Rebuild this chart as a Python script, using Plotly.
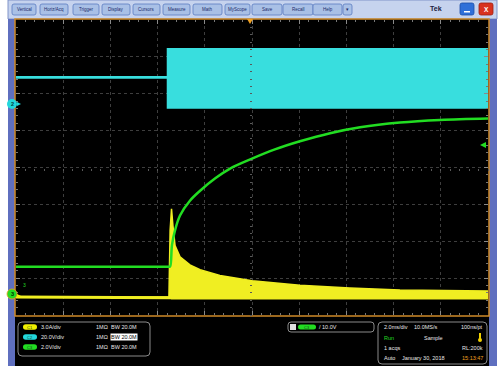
import plotly.graph_objects as go

W, H = 499, 371

# ---------------- data (time in ms, vertical in divisions) ----------------
cyan_t = [-10.0, -3.56, -3.56, 10.0]
cyan_upper_div = [2.45, 2.45, 3.21, 3.21]
cyan_lower_div = [2.45, 2.45, 1.63, 1.63]

green_t = [-10.0, -3.52, -3.47, -3.39, -3.26, -3.05, -2.63, -2.20, -1.57, -0.93,
           0.0, 0.97, 2.03, 3.31, 4.58, 6.27, 7.97, 10.0]
green_div = [-2.69, -2.69, -2.69, -2.10, -1.70, -1.30, -0.90, -0.63, -0.30, -0.03,
             0.24, 0.49, 0.71, 0.93, 1.09, 1.22, 1.29, 1.33]

yellow_t = [-10.0, -3.52, -3.47, -3.41, -3.35, -3.26, -3.05, -2.63, -2.20, -1.36,
            0.0, 2.03, 4.15, 6.27, 10.0]
yellow_upper_div = [-3.51, -3.51, -1.71, -1.12, -1.58, -2.12, -2.42, -2.64, -2.77, -2.93,
                    -3.07, -3.19, -3.27, -3.32, -3.35]
yellow_lower_div = [-3.51, -3.51, -3.53, -3.54, -3.54, -3.54, -3.54, -3.54, -3.54, -3.54,
                    -3.54, -3.54, -3.54, -3.54, -3.54]

menu_labels = ["Vertical", "Horiz/Acq", "Trigger", "Display", "Cursors", "Measure",
               "Math", "MyScope", "Save", "Recall", "Help", "▾"]
menu_x = [(12, 36), (40, 68), (73, 99), (102, 130), (133, 160), (163, 190),
          (193, 222), (225, 250), (252, 282), (283, 313), (313, 342), (343, 352)]

chan_names = ["C1", "C2", "C3"]
chan_colors = ["#f0f000", "#22d8dc", "#22dd22"]
chan_scales = ["3.0A/div", "20.0V/div", "2.0V/div"]
chan_imp = ["1MΩ", "1MΩ", "1MΩ"]
chan_bw = ["BW 20.0M", "BW 20.0M", "BW 20.0M"]

trig_source = "C3"
trig_level = "10.0V"
timebase = "2.0ms/div"
sample_rate = "10.0MS/s"
resolution = "100ns/pt"
acq_state = "Run"
acq_mode = "Sample"
acqs = "1 acqs"
rec_len = "RL:200k"
trig_mode = "Auto"
date_txt = "January 30, 2018"
time_txt = "15:13:47"

# ---------------- helpers ----------------
def px(x):
    return x / W


def py(y):
    return 1 - y / H


def rrect(x0, y0, x1, y1, r):
    X0, X1 = px(x0), px(x1)
    Y0, Y1 = py(y0), py(y1)
    rx, ry = r / W, r / H
    return (f"M {X0+rx},{Y0} L {X1-rx},{Y0} Q {X1},{Y0} {X1},{Y0-ry} "
            f"L {X1},{Y1+ry} Q {X1},{Y1} {X1-rx},{Y1} L {X0+rx},{Y1} "
            f"Q {X0},{Y1} {X0},{Y1+ry} L {X0},{Y0-ry} Q {X0},{Y0} {X0+rx},{Y0} Z")


shapes = []
ann = []


def rect(x0, y0, x1, y1, fill, line=None, lw=0, layer="below"):
    shapes.append(dict(type="rect", xref="paper", yref="paper",
                       x0=px(x0), x1=px(x1), y0=py(y1), y1=py(y0),
                       fillcolor=fill, line=dict(color=line or fill, width=lw), layer=layer))


def text(x, y, s, size=5.5, color="#e8e8e8", anchor="left", bold=False, bg=None):
    ann.append(dict(xref="paper", yref="paper", x=px(x), y=py(y), text=(f"<b>{s}</b>" if bold else s),
                    showarrow=False, xanchor=anchor, yanchor="middle",
                    font=dict(size=size, color=color, family="Liberation Sans, Arial"),
                    bgcolor=bg, borderpad=0))


# frame
rect(8, 0, 497, 19, "#c6d3ee", "#8094c8", 1)
rect(8, 19, 15, 366, "#5f6fbf")
rect(489, 19, 497, 366, "#5f6fbf")
rect(15, 316, 489, 366, "#000000")
rect(15, 19, 489, 316, "#000000", "#d08a28", 1.5)

for lab, (a, b) in zip(menu_labels, menu_x):
    shapes.append(dict(type="path", xref="paper", yref="paper", path=rrect(a, 4, b, 15, 2),
                       fillcolor="#a9c0e6", line=dict(color="#5c7cc0", width=0.8), layer="below"))
    text((a + b) / 2, 9.5, lab, size=4.5, color="#1a2a6a", anchor="center")

text(436, 9, "Tek", size=7, color="#202040", anchor="center", bold=True)
shapes.append(dict(type="path", xref="paper", yref="paper", path=rrect(460, 3, 474, 15, 2),
                   fillcolor="#2f6fd8", line=dict(color="#1d4fa8", width=0.8)))
rect(464, 11, 470, 12.5, "#ffffff", layer="above")
shapes.append(dict(type="path", xref="paper", yref="paper", path=rrect(479, 3, 493, 15, 2),
                   fillcolor="#d8321e", line=dict(color="#a02010", width=0.8)))
text(486, 9.5, "X", size=6.5, color="#ffffff", anchor="center", bold=True)

# readout boxes
shapes.append(dict(type="path", xref="paper", yref="paper", path=rrect(18, 322, 150, 356, 4),
                   fillcolor="#000000", line=dict(color="#8a8a8a", width=1)))
for i in range(3):
    yy = 327 + 10 * i
    shapes.append(dict(type="path", xref="paper", yref="paper", path=rrect(23, yy - 2.8, 37, yy + 2.8, 2.8),
                       fillcolor=chan_colors[i], line=dict(color=chan_colors[i], width=0)))
    text(30, yy, chan_names[i], size=4, color="#204020", anchor="center")
    text(40, yy, chan_scales[i], size=5.5)
    text(95, yy, chan_imp[i], size=5.5)
    if i == 1:
        text(110, yy, chan_bw[i], size=5.5, color="#000000", bg="#ffffff")
    else:
        text(110, yy, chan_bw[i], size=5.5)

shapes.append(dict(type="path", xref="paper", yref="paper", path=rrect(288, 322, 374, 332, 3),
                   fillcolor="#000000", line=dict(color="#8a8a8a", width=1)))
rect(290, 324, 296, 330, "#e0e0e0", layer="above")
shapes.append(dict(type="path", xref="paper", yref="paper", path=rrect(298, 324.5, 316, 329.5, 2.5),
                   fillcolor="#22dd22", line=dict(color="#22dd22", width=0)))
text(307, 327, trig_source, size=4, color="#204020", anchor="center")
text(318, 327, "/ " + trig_level, size=5.5)

shapes.append(dict(type="path", xref="paper", yref="paper", path=rrect(378, 322, 487, 364, 4),
                   fillcolor="#000000", line=dict(color="#8a8a8a", width=1)))
text(383, 327, timebase, size=5.5)
text(413, 327, sample_rate, size=5.5)
text(484, 327, resolution, size=5.5, anchor="right")
text(383, 337.5, acq_state, size=5.5, color="#22dd22")
text(433, 337.5, acq_mode, size=5.5, anchor="center")
# thermometer icon
rect(479, 333, 481, 339, "#f0d000", layer="above")
shapes.append(dict(type="circle", xref="paper", yref="paper", x0=px(478), x1=px(482), y0=py(342), y1=py(338),
                   fillcolor="#f0d000", line=dict(width=0)))
text(383, 348, acqs, size=5.5)
text(484, 348, rec_len, size=5.5, anchor="right")
text(383, 358, trig_mode, size=5.5)
text(401, 358, date_txt, size=5.5)
text(484, 358, time_txt, size=5.5, color="#f0a020", anchor="right")

# markers
shapes.append(dict(type="circle", xref="paper", yref="paper", x0=px(7), x1=px(17), y0=py(109), y1=py(99),
                   fillcolor="#22d8dc", line=dict(color="#22d8dc", width=0)))
text(12, 104, "2", size=5.5, color="#004040", anchor="center", bold=True)
shapes.append(dict(type="path", xref="paper", yref="paper",
                   path=f"M {px(17)},{py(102)} L {px(21)},{py(104)} L {px(17)},{py(106)} Z",
                   fillcolor="#22d8dc", line=dict(width=0)))
shapes.append(dict(type="circle", xref="paper", yref="paper", x0=px(7), x1=px(17), y0=py(299), y1=py(289),
                   fillcolor="#22dd22", line=dict(color="#f0a020", width=0.8)))
text(12, 294, "3", size=5.5, color="#003000", anchor="center", bold=True)
text(24, 285, "3", size=5, color="#22dd22", anchor="center")
shapes.append(dict(type="path", xref="paper", yref="paper",
                   path=f"M {px(17)},{py(294)} L {px(21)},{py(296)} L {px(17)},{py(298)} Z",
                   fillcolor="#f0f000", line=dict(width=0)))
shapes.append(dict(type="path", xref="paper", yref="paper",
                   path=f"M {px(480)},{py(145)} L {px(486)},{py(142)} L {px(486)},{py(148)} Z",
                   fillcolor="#22dd22", line=dict(width=0)))
shapes.append(dict(type="path", xref="paper", yref="paper",
                   path=f"M {px(247)},{py(19)} L {px(253)},{py(19)} L {px(250)},{py(24)} Z",
                   fillcolor="#f0a020", line=dict(width=0)))

# ---------------- traces ----------------
fig = go.Figure()
fig.add_trace(go.Scatter(x=cyan_t, y=cyan_lower_div, mode="lines",
                         line=dict(color="#38dede", width=2.5), hoverinfo="skip"))
fig.add_trace(go.Scatter(x=cyan_t, y=cyan_upper_div, mode="lines", fill="tonexty",
                         fillcolor="#38dede", line=dict(color="#38dede", width=2.5), hoverinfo="skip"))
fig.add_trace(go.Scatter(x=yellow_t, y=yellow_lower_div, mode="lines",
                         line=dict(color="#f0ee22", width=3), hoverinfo="skip"))
fig.add_trace(go.Scatter(x=yellow_t, y=yellow_upper_div, mode="lines", fill="tonexty",
                         fillcolor="#f0ee22", line=dict(color="#f0ee22", width=1.5), hoverinfo="skip"))
fig.add_trace(go.Scatter(x=green_t, y=green_div, mode="lines", line_shape="spline",
                         line=dict(color="#22dd22", width=2.5), hoverinfo="skip"))
# invisible traces to carry centre crosshair axes
fig.add_trace(go.Scatter(x=[0], y=[0], xaxis="x2", yaxis="y2", mode="markers",
                         marker=dict(opacity=0), hoverinfo="skip"))

dom_x = [px(16), px(488)]
dom_y = [py(315), py(20)]
axis_common = dict(showticklabels=False, showline=False, zeroline=False,
                   griddash="dot", gridcolor="#3e3e3e", gridwidth=1,
                   ticks="inside", ticklen=4, tickcolor="#8a8a8a")
fig.update_layout(
    width=W, height=H, margin=dict(l=0, r=0, t=0, b=0),
    paper_bgcolor="#ffffff", plot_bgcolor="#000000", showlegend=False,
    xaxis=dict(domain=dom_x, range=[-10, 10], dtick=2, mirror="ticks",
               minor=dict(ticks="inside", ticklen=2, tickcolor="#777777", dtick=0.4, showgrid=False),
               **axis_common),
    yaxis=dict(domain=dom_y, range=[-4, 4], dtick=1, mirror="ticks",
               minor=dict(ticks="inside", ticklen=2, tickcolor="#777777", dtick=0.2, showgrid=False),
               **axis_common),
    xaxis2=dict(overlaying="x", anchor="free", position=(dom_y[0] + dom_y[1]) / 2,
                range=[-10, 10], dtick=2, showgrid=False, showticklabels=False, zeroline=False,
                ticks="outside", ticklen=2, tickcolor="#5a5a5a",
                minor=dict(ticks="outside", ticklen=2, tickcolor="#5a5a5a", dtick=0.4)),
    yaxis2=dict(overlaying="y", anchor="free", position=(dom_x[0] + dom_x[1]) / 2,
                range=[-4, 4], dtick=1, showgrid=False, showticklabels=False, zeroline=False,
                ticks="outside", ticklen=2, tickcolor="#5a5a5a",
                minor=dict(ticks="outside", ticklen=2, tickcolor="#5a5a5a", dtick=0.2)),
    shapes=shapes, annotations=ann,
)
fig.write_html("out.html")
